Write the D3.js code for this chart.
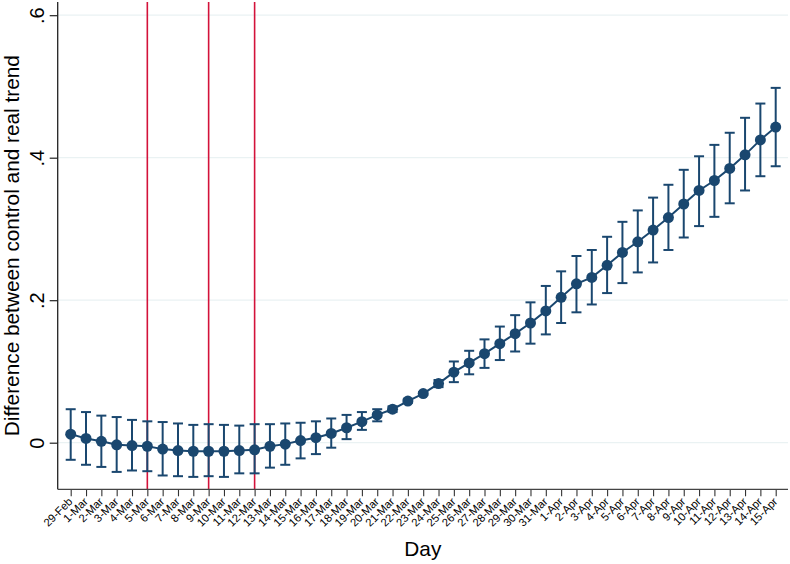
<!DOCTYPE html>
<html>
<head>
<meta charset="utf-8">
<script src="https://cdn.jsdelivr.net/npm/d3@7"></script>
<style>
  body { margin: 0; background: #fff; }
  svg { display: block; font-family: "Liberation Sans", Arial, sans-serif; }
</style>
</head>
<body>
<svg id="chart" width="790" height="564"></svg>
<script>
// day labels along the x axis
var days = ['29-Feb', '1-Mar', '2-Mar', '3-Mar', '4-Mar', '5-Mar', '6-Mar', '7-Mar', '8-Mar', '9-Mar',
  '10-Mar', '11-Mar', '12-Mar', '13-Mar', '14-Mar', '15-Mar', '16-Mar', '17-Mar', '18-Mar', '19-Mar',
  '20-Mar', '21-Mar', '22-Mar', '23-Mar', '24-Mar', '25-Mar', '26-Mar', '27-Mar', '28-Mar', '29-Mar',
  '30-Mar', '31-Mar', '1-Apr', '2-Apr', '3-Apr', '4-Apr', '5-Apr', '6-Apr', '7-Apr', '8-Apr',
  '9-Apr', '10-Apr', '11-Apr', '12-Apr', '13-Apr', '14-Apr', '15-Apr'];

// point estimate
var estimate = [0.012, 0.006, 0.002, -0.003, -0.004, -0.005, -0.009, -0.011, -0.012, -0.012,
  -0.012, -0.011, -0.010, -0.005, -0.002, 0.003, 0.007, 0.013, 0.021, 0.0295,
  0.039, 0.047, 0.0585, 0.069, 0.083, 0.099, 0.112, 0.125, 0.139, 0.153,
  0.168, 0.185, 0.204, 0.223, 0.232, 0.249, 0.267, 0.282, 0.2985, 0.316,
  0.335, 0.354, 0.368, 0.385, 0.404, 0.425, 0.443];

// confidence interval
var ciLow = [-0.024, -0.031, -0.034, -0.041, -0.039, -0.040, -0.046, -0.047, -0.048, -0.047,
  -0.048, -0.043, -0.043, -0.035, -0.031, -0.022, -0.016, -0.007, 0.005, 0.018,
  0.030, 0.043, 0.056, 0.067, 0.078, 0.085, 0.096, 0.105, 0.116, 0.128,
  0.139, 0.152, 0.168, 0.183, 0.194, 0.210, 0.224, 0.239, 0.253, 0.2705,
  0.288, 0.304, 0.317, 0.336, 0.354, 0.374, 0.388];
var ciHigh = [0.047, 0.043, 0.038, 0.036, 0.032, 0.030, 0.029, 0.027, 0.025, 0.026,
  0.025, 0.024, 0.026, 0.026, 0.027, 0.028, 0.030, 0.034, 0.039, 0.043,
  0.047, 0.051, 0.061, 0.071, 0.088, 0.114, 0.129, 0.145, 0.163, 0.179,
  0.197, 0.220, 0.2405, 0.262, 0.2705, 0.289, 0.310, 0.326, 0.344, 0.362,
  0.383, 0.402, 0.418, 0.435, 0.456, 0.476, 0.498];

// days marked with vertical red lines
var eventDays = ['5-Mar', '9-Mar', '12-Mar'];

var yTicks = [0, 0.2, 0.4, 0.6];
var yTickLabels = ['0', '.2', '.4', '.6'];

var navy = '#1a476f';
var svgEl = d3.select('#chart');

var plotLeft = 57.7, plotRight = 788, plotTop = 2, plotBottom = 489.3;

var x = d3.scaleLinear().domain([0, days.length - 1]).range([70.7, 775.7]);
var y = d3.scaleLinear().domain([0, 0.6]).range([442.7, 15.2]);

// grid
svgEl.append('g').selectAll('line').data(yTicks).enter().append('line')
  .attr('x1', plotLeft).attr('x2', plotRight)
  .attr('y1', function(d) { return y(d); }).attr('y2', function(d) { return y(d); })
  .style('stroke', '#eaf2f3').style('stroke-width', 1.2);

// event lines
svgEl.append('g').selectAll('line').data(eventDays).enter().append('line')
  .attr('x1', function(d) { return x(days.indexOf(d)); })
  .attr('x2', function(d) { return x(days.indexOf(d)); })
  .attr('y1', plotTop).attr('y2', plotBottom)
  .style('stroke', '#d3123a').style('stroke-width', 1.6);

// y axis
var yAxis = d3.axisLeft(y).tickValues(yTicks).tickSize(8).tickPadding(0)
  .tickFormat(function(d, i) { return yTickLabels[i]; });
var yG = svgEl.append('g').attr('transform', 'translate(' + plotLeft + ',0)').call(yAxis);
yG.select('.domain').remove();
yG.append('line').attr('x1', 0).attr('x2', 0).attr('y1', plotTop).attr('y2', plotBottom)
  .style('stroke', '#222').style('stroke-width', 1.3);
yG.selectAll('.tick line').style('stroke', '#222').style('stroke-width', 1.2);
yG.selectAll('.tick text')
  .attr('x', null).attr('dy', null)
  .attr('transform', 'translate(-14,0) rotate(-90)')
  .attr('text-anchor', 'middle')
  .style('font-size', '20px').style('fill', '#000')
  .style('font-family', '"Liberation Sans", Arial, sans-serif');

// x axis
var xAxis = d3.axisBottom(x).tickValues(d3.range(days.length)).tickSize(7).tickPadding(0)
  .tickFormat(function(i) { return days[i]; });
var xG = svgEl.append('g').attr('transform', 'translate(0,' + plotBottom + ')').call(xAxis);
xG.select('.domain').remove();
xG.append('line').attr('x1', plotLeft).attr('x2', plotRight).attr('y1', 0).attr('y2', 0)
  .style('stroke', '#444').style('stroke-width', 1.3);
xG.selectAll('.tick line').style('stroke', '#333').style('stroke-width', 1.1);
xG.selectAll('.tick text')
  .attr('y', null).attr('dy', null)
  .attr('text-anchor', 'end')
  .attr('transform', 'translate(2,13) rotate(-45)')
  .style('font-size', '11.2px').style('fill', '#000')
  .style('font-family', '"Liberation Sans", Arial, sans-serif');

// axis titles
svgEl.append('text')
  .attr('transform', 'translate(19,' + ((plotTop + plotBottom) / 2) + ') rotate(-90)')
  .attr('text-anchor', 'middle')
  .style('font-size', '20.8px')
  .text('Difference between control and real trend');
svgEl.append('text')
  .attr('x', (plotLeft + plotRight) / 2).attr('y', 556)
  .attr('text-anchor', 'middle')
  .style('font-size', '20.8px')
  .text('Day');

// error bars
var bars = svgEl.append('g').selectAll('g').data(days).enter().append('g')
  .style('stroke', navy).style('stroke-width', 2);
bars.append('line')
  .attr('x1', function(d, i) { return x(i); }).attr('x2', function(d, i) { return x(i); })
  .attr('y1', function(d, i) { return y(ciLow[i]); }).attr('y2', function(d, i) { return y(ciHigh[i]); });
bars.append('line')
  .attr('x1', function(d, i) { return x(i) - 5; }).attr('x2', function(d, i) { return x(i) + 5; })
  .attr('y1', function(d, i) { return y(ciLow[i]); }).attr('y2', function(d, i) { return y(ciLow[i]); });
bars.append('line')
  .attr('x1', function(d, i) { return x(i) - 5; }).attr('x2', function(d, i) { return x(i) + 5; })
  .attr('y1', function(d, i) { return y(ciHigh[i]); }).attr('y2', function(d, i) { return y(ciHigh[i]); });

// connecting line
var line = d3.line().x(function(d, i) { return x(i); }).y(function(d) { return y(d); });
svgEl.append('path').datum(estimate).attr('d', line)
  .style('fill', 'none').style('stroke', navy).style('stroke-width', 2);

// markers
svgEl.append('g').selectAll('circle').data(estimate).enter().append('circle')
  .attr('cx', function(d, i) { return x(i); }).attr('cy', function(d) { return y(d); })
  .attr('r', 5.5).style('fill', navy);
</script>
</body>
</html>
